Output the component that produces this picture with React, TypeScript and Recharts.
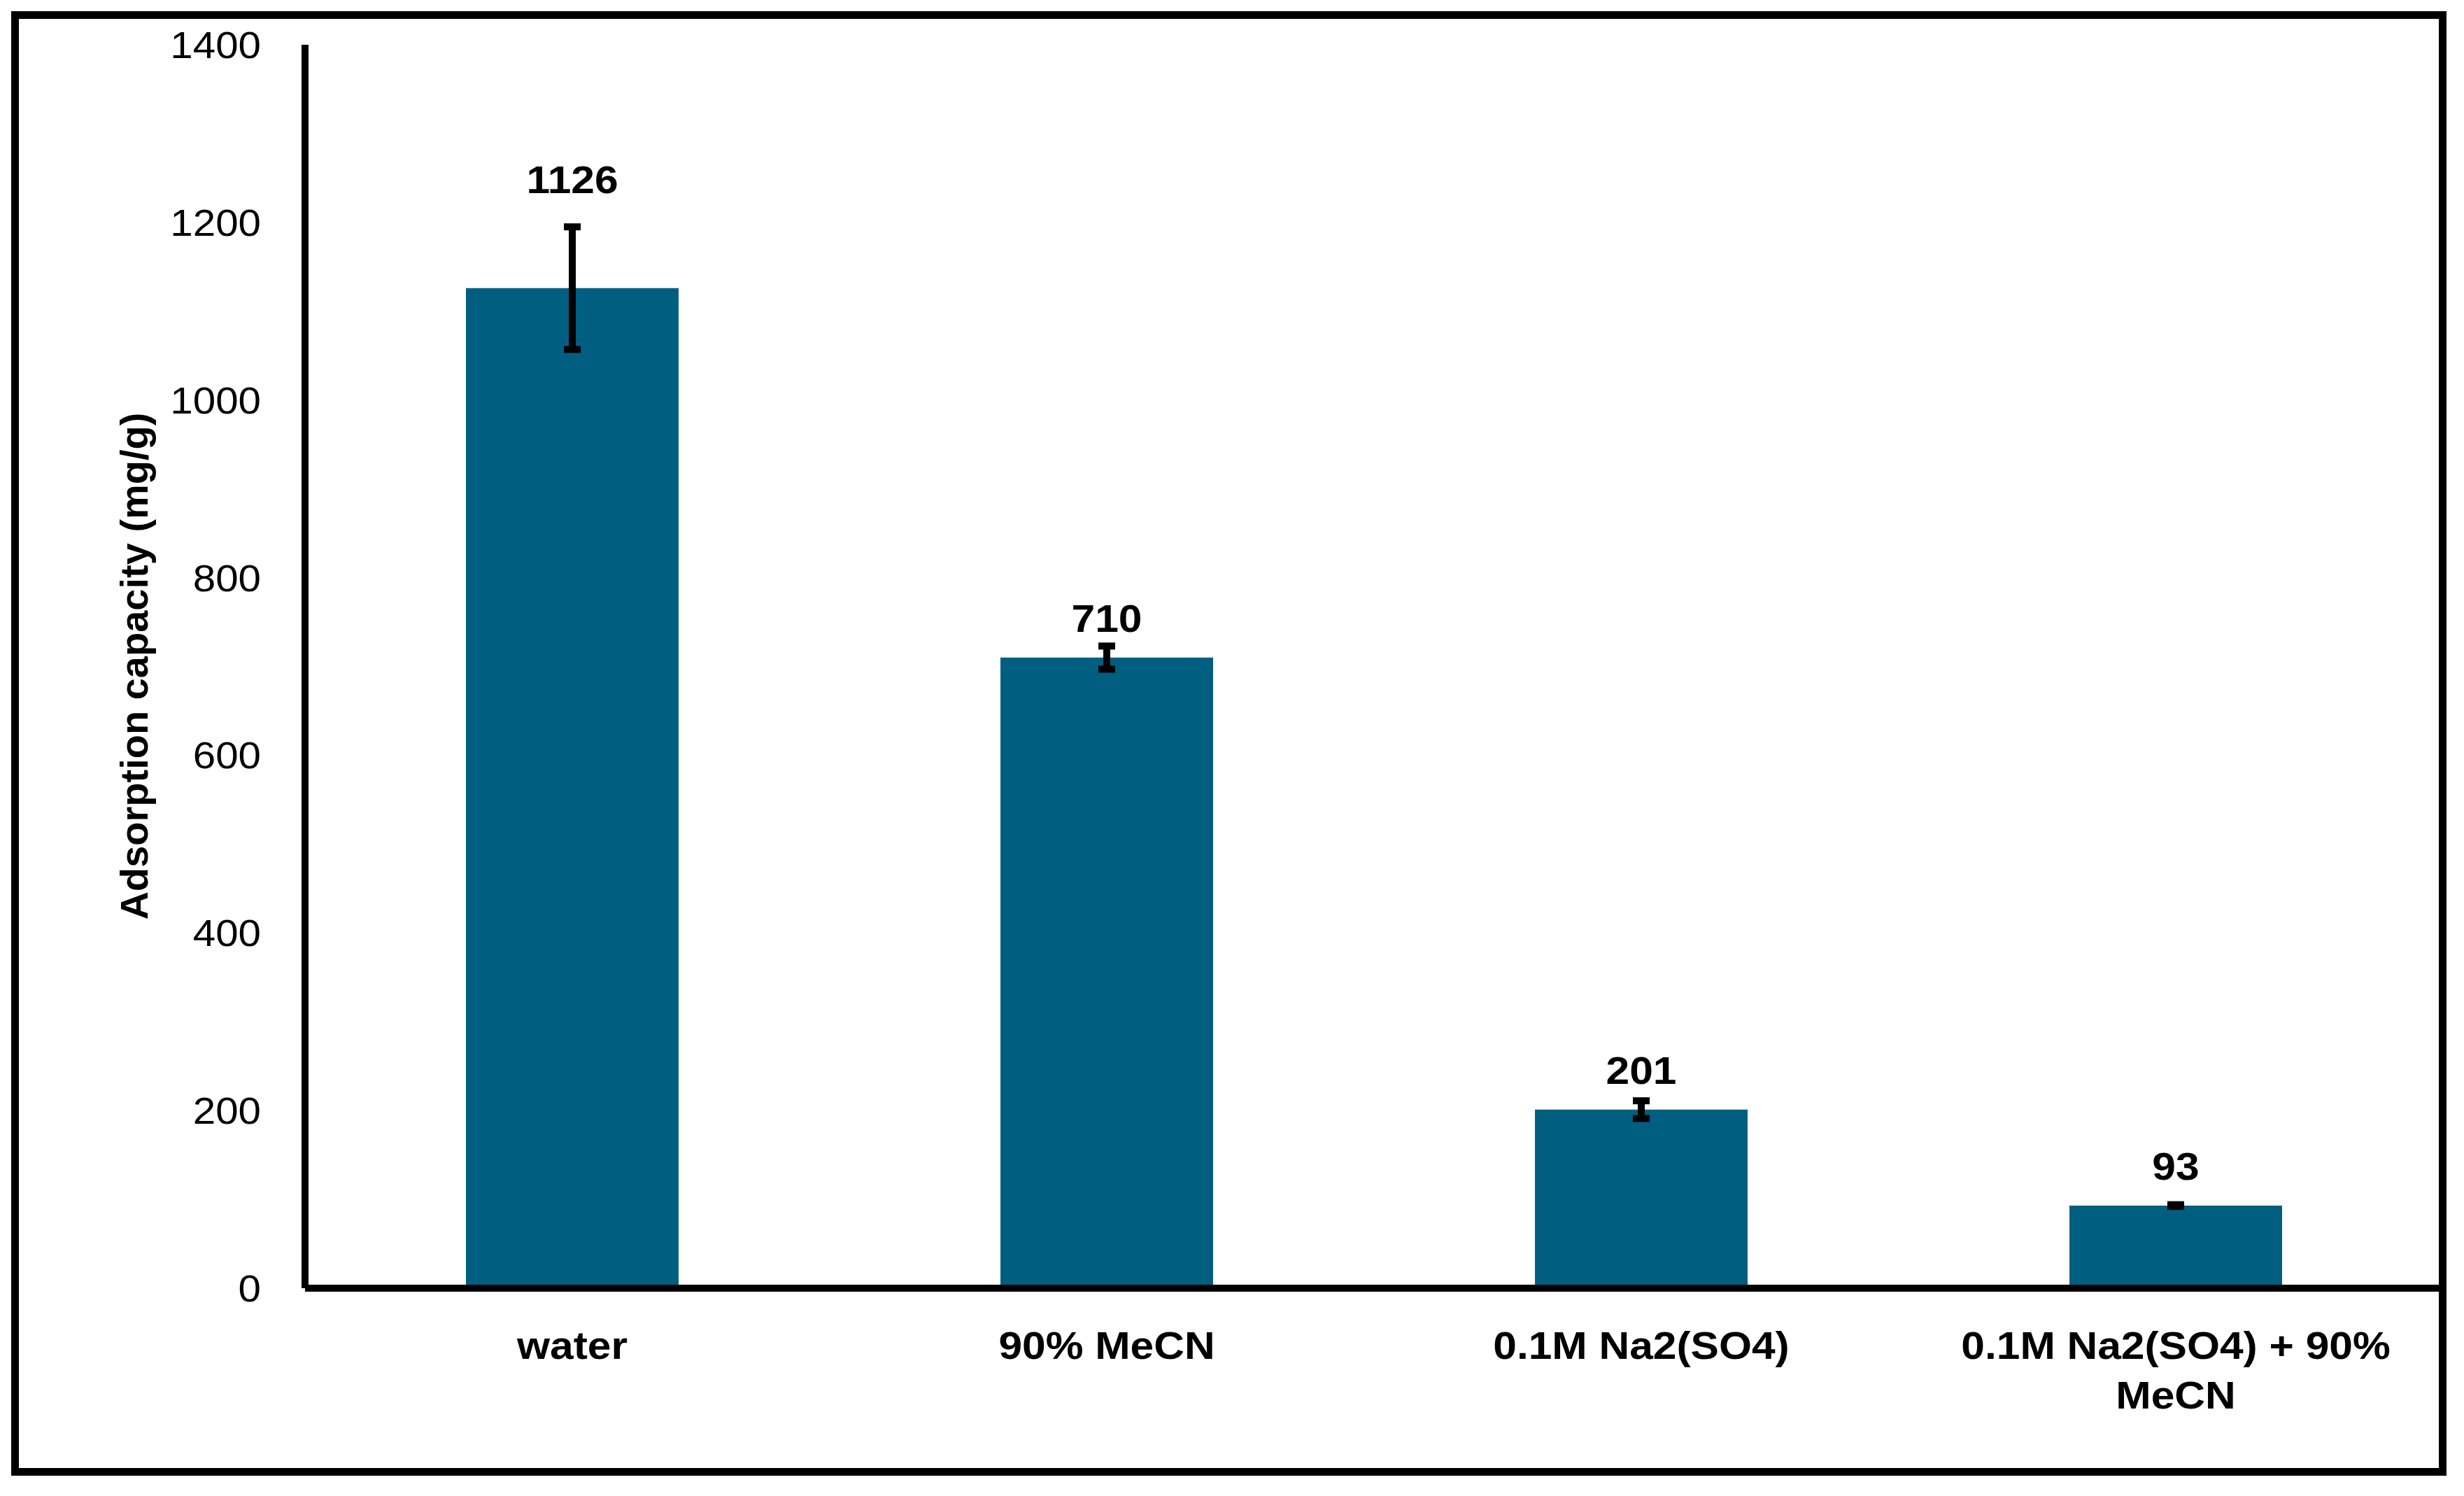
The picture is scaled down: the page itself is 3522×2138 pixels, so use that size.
import React from "react";
import { BarChart, Bar, XAxis, YAxis, ErrorBar, LabelList } from "recharts";

const categories = ["water", "90% MeCN", "0.1M Na2(SO4)", "0.1M Na2(SO4) + 90% MeCN"];
const capacity = [1126, 710, 201, 93];
const errors = [69, 13, 10, 1];
const yTicks = [0, 200, 400, 600, 800, 1000, 1200, 1400];

const data = categories.map((name, i) => ({ name, value: capacity[i], err: errors[i] }));

const FONT = "'Liberation Sans', Arial, sans-serif";
const BAR_COLOR = "#005F80";
const STRETCH = 1.08;

function wrapWords(text: string, maxChars: number): string[] {
  const words = text.split(" ");
  const lines: string[] = [];
  let cur = "";
  for (const w of words) {
    const next = cur ? cur + " " + w : w;
    if (next.length > maxChars && cur) {
      lines.push(cur);
      cur = w;
    } else {
      cur = next;
    }
  }
  if (cur) lines.push(cur);
  return lines;
}

const StretchText = ({ x, y, anchor, bold, size, children }: any) => (
  <text
    x={0}
    y={0}
    transform={`translate(${x} ${y}) scale(${STRETCH} 1)`}
    textAnchor={anchor}
    fontFamily={FONT}
    fontWeight={bold ? "bold" : "normal"}
    fontSize={size}
    fill="#000"
  >
    {children}
  </text>
);

const XTick = (props: any) => {
  const { x, y, payload } = props;
  const lines = wrapWords(String(payload.value), 20);
  return (
    <g>
      {lines.map((l, i) => (
        <StretchText key={i} x={x} y={y + 101 + i * 71} anchor="middle" bold size={56}>
          {l}
        </StretchText>
      ))}
    </g>
  );
};

const YTick = (props: any) => {
  const { x, y, payload } = props;
  return (
    <StretchText x={x - 63} y={y + 19} anchor="end" size={54}>
      {payload.value}
    </StretchText>
  );
};

const ValueLabel = (props: any) => {
  const { x, y, width, height, value, index } = props;
  const ppu = Number(height) / Number(value);
  const errPx = errors[index] * ppu;
  const errTop = Number(y) - errPx;
  const cy = errPx > 50 ? errTop - 68 : Number(y) - 57;
  return (
    <StretchText x={Number(x) + Number(width) / 2} y={cy + 20} anchor="middle" bold size={56}>
      {value}
    </StretchText>
  );
};

export default function App() {
  return (
    <div
      style={{
        position: "absolute",
        left: 0,
        top: 0,
        width: 3522,
        height: 2138,
        background: "#fff",
      }}
    >
      <div
        style={{
          position: "absolute",
          left: 16,
          top: 16,
          width: 3481,
          height: 2093,
          border: "11px solid #000",
          boxSizing: "border-box",
        }}
      />
      <div style={{ position: "absolute", left: 0, top: 0 }}>
        <BarChart
          width={3522}
          height={2138}
          data={data}
          margin={{ top: 64, right: 30, bottom: 0, left: 0 }}
        >
          <XAxis
            dataKey="name"
            height={297}
            tickLine={false}
            tickSize={0}
            tickMargin={0}
            axisLine={{ stroke: "#000", strokeWidth: 10 }}
            tick={<XTick />}
            interval={0}
          />
          <YAxis
            width={436}
            domain={[0, 1400]}
            ticks={yTicks}
            tickLine={false}
            tickSize={0}
            tickMargin={0}
            axisLine={{ stroke: "#000", strokeWidth: 10 }}
            tick={<YTick />}
            interval={0}
            label={{
              value: "Adsorption capacity (mg/g)",
              angle: -90,
              position: "insideLeft",
              content: () => (
                <text
                  x={211}
                  y={952}
                  transform="rotate(-90 211 952)"
                  textAnchor="middle"
                  fontFamily={FONT}
                  fontWeight="bold"
                  fontSize={56}
                  fill="#000"
                >
                  Adsorption capacity (mg/g)
                </text>
              ),
            }}
          />
          <Bar dataKey="value" fill={BAR_COLOR} barSize={304} isAnimationActive={false}>
            <ErrorBar
              dataKey="err"
              width={12}
              strokeWidth={10}
              stroke="#000"
              isAnimationActive={false}
            />
            <LabelList dataKey="value" content={<ValueLabel />} />
          </Bar>
        </BarChart>
      </div>
    </div>
  );
}
